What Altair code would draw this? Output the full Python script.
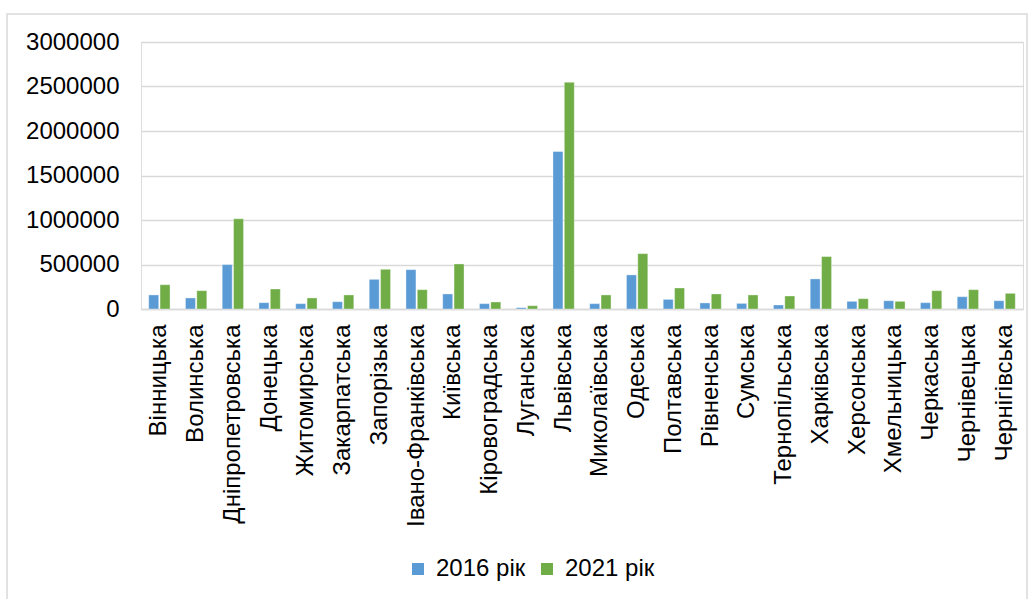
import altair as alt
import pandas as pd

regions = ["Вінницька", "Волинська", "Дніпропетровська", "Донецька", "Житомирська",
           "Закарпатська", "Запорізька", "Івано-Франківська", "Київська", "Кіровоградська",
           "Луганська", "Львівська", "Миколаївська", "Одеська", "Полтавська", "Рівненська",
           "Сумська", "Тернопільська", "Харківська", "Херсонська", "Хмельницька",
           "Черкаська", "Чернівецька", "Чернігівська"]
v2016 = [158000, 124000, 499000, 71000, 60000, 82000, 333000, 442000, 169000, 60000,
         15000, 1770000, 60000, 383000, 108000, 68000, 63000, 45000, 338000, 86000,
         93000, 71000, 138000, 93000]
v2021 = [273000, 206000, 1013000, 225000, 124000, 158000, 446000, 217000, 506000, 79000,
         37000, 2547000, 158000, 622000, 236000, 169000, 158000, 146000, 589000, 116000,
         86000, 206000, 217000, 176000]
series = ["2016 рік", "2021 рік"]
colors = ["#5B9BD5", "#70AD47"]

rows = []
for r, a, b in zip(regions, v2016, v2021):
    rows.append({"region": r, "series": series[0], "value": a})
    rows.append({"region": r, "series": series[1], "value": b})
df = pd.DataFrame(rows)

W, H = 882, 267
FONT = "Liberation Sans"

bars = alt.Chart(df).mark_bar(stroke="white", strokeOpacity=0.35, strokeWidth=1).encode(
    x=alt.X("region:N", sort=regions, title=None,
            scale=alt.Scale(paddingInner=0.42, paddingOuter=0.21),
            axis=alt.Axis(labelAngle=-90, labelFontSize=24, labelFont=FONT,
                          labelColor="#000000", labelPadding=15, ticks=False,
                          domainColor="#D9D9D9", domainWidth=1.5, labelLimit=300)),
    xOffset=alt.XOffset("series:N", sort=series, scale=alt.Scale(paddingInner=0.12)),
    y=alt.Y("value:Q", title=None,
            scale=alt.Scale(domain=[0, 3000000], nice=False),
            axis=alt.Axis(values=[0, 500000, 1000000, 1500000, 2000000, 2500000, 3000000],
                          format="d", labelFontSize=24, labelFont=FONT, labelColor="#000000",
                          labelPadding=22, ticks=False, domain=False,
                          gridColor="#D9D9D9", gridWidth=1.5)),
    color=alt.Color("series:N", sort=series,
                    scale=alt.Scale(domain=series, range=colors),
                    legend=alt.Legend(title=None, orient="none", direction="horizontal",
                                      legendX=265, legendY=515, symbolType="square",
                                      symbolSize=144, symbolStrokeWidth=0,
                                      labelFontSize=24, labelFont=FONT, labelColor="#000000",
                                      columnPadding=9, symbolOffset=0, labelOffset=6)),
)

border_df = pd.DataFrame({"k": [0]})
border = alt.Chart(border_df).mark_rect(fill=None, stroke="#D9D9D9", strokeWidth=1.5,
                                        clip=False).encode(
    x=alt.value(-134), x2=alt.value(886),
    y=alt.value(-28), y2=alt.value(590),
)

chart = alt.layer(border, bars).properties(
    width=W, height=H,
    autosize=alt.AutoSizeParams(type="none"),
    padding={"left": 141, "top": 42, "right": 12, "bottom": 290},
).configure_view(stroke=None).configure(background="white")

chart.save("out.html", embed_options={"renderer": "svg", "actions": False})
